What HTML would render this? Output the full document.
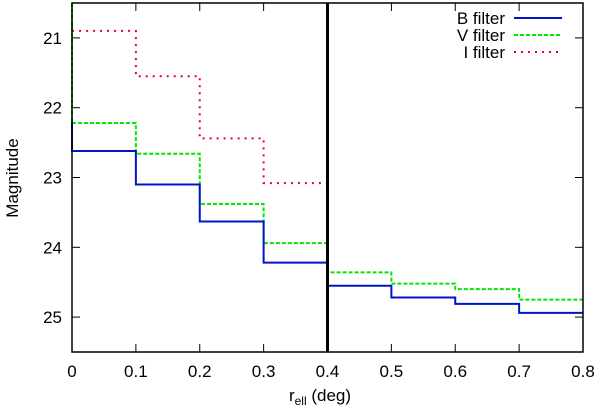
<!DOCTYPE html>
<html><head><meta charset="utf-8"><style>
body{margin:0;background:#fff}
svg text{font-family:"Liberation Sans",sans-serif;fill:#000}
</style></head><body>
<svg id="c" width="600" height="407" xmlns="http://www.w3.org/2000/svg"></svg>
<script>
const binEdges=[0,0.1,0.2,0.3,0.4,0.5,0.6,0.7,0.8];
const bValues=[22.62,23.10,23.63,24.22,24.55,24.72,24.81,24.94];
const vValues=[22.22,22.66,23.38,23.94,24.36,24.52,24.60,24.75];
const iValues=[20.90,21.55,22.44,23.08];
const xTicks=[0,0.1,0.2,0.3,0.4,0.5,0.6,0.7,0.8];
const xTickLabels=["0","0.1","0.2","0.3","0.4","0.5","0.6","0.7","0.8"];
const yTicks=[21,22,23,24,25];
const cutX=0.4;
const L=72,R=583,T=3,B=352,xMin=0,xMax=0.8,yMin=20.5,yMax=25.5;
const X=v=>L+(v-xMin)/(xMax-xMin)*(R-L);
const Y=v=>T+(v-yMin)/(yMax-yMin)*(B-T);
const svg=document.getElementById('c');
const NS='http://www.w3.org/2000/svg';
function mk(tag,attrs,parent){const e=document.createElementNS(NS,tag);for(const k in attrs)e.setAttribute(k,attrs[k]);(parent||svg).appendChild(e);return e;}
xTicks.forEach((t,i)=>{
  const g=mk('g',{});
  
  
  mk('line',{x1:X(t),x2:X(t),y1:B,y2:B-8,stroke:'#000','stroke-width':1},g);
  mk('line',{x1:X(t),x2:X(t),y1:T,y2:T+8,stroke:'#000','stroke-width':1},g);
  const tx=mk('text',{x:X(t),y:B+25,'text-anchor':'middle','font-size':17},g);
  tx.textContent=xTickLabels[i];
});
yTicks.forEach(t=>{
  const g=mk('g',{});
  
  
  mk('line',{x1:L,x2:L+8,y1:Y(t),y2:Y(t),stroke:'#000','stroke-width':1},g);
  mk('line',{x1:R,x2:R-8,y1:Y(t),y2:Y(t),stroke:'#000','stroke-width':1},g);
  const tx=mk('text',{x:L-10,y:Y(t)+6,'text-anchor':'end','font-size':17},g);
  tx.textContent=String(t);
});
function stepPath(vals,startY){
  let d='M'+X(binEdges[0])+','+Y(startY);
  vals.forEach((v,i)=>{d+=' L'+X(binEdges[i])+','+Y(v)+' L'+X(binEdges[i+1])+','+Y(v);});
  return d;
}
const series=[
  {vals:iValues,start:20.5,color:'#e8001e',dash:'2,5',name:'i-filter-line'},
  {vals:vValues,start:20.5,color:'#00e600',dash:'4,2',name:'v-filter-line'},
  {vals:bValues,start:22.2,color:'#0014c8',dash:'',name:'b-filter-line'}
];
series.forEach(s=>{
  const p=mk('path',{d:stepPath(s.vals,s.start),fill:'none',stroke:s.color,'stroke-width':2,'stroke-dasharray':s.dash});
  
  
});
const cut=mk('line',{x1:X(cutX),x2:X(cutX),y1:T,y2:B,stroke:'#000','stroke-width':3});


const frame=mk('rect',{x:L,y:T,width:R-L,height:B-T,fill:'none',stroke:'#000','stroke-width':1.5});


const leg=[['B filter','#0014c8',''],['V filter','#00e600','4,2'],['I filter','#e8001e','2,5']];
leg.forEach((l,i)=>{
  const g=mk('g',{});
  
  
  const y=18+i*17;
  const tx=mk('text',{x:505,y:y+6,'text-anchor':'end','font-size':17},g);
  tx.textContent=l[0];
  mk('line',{x1:514,x2:562,y1:y,y2:y,stroke:l[1],'stroke-width':2,'stroke-dasharray':l[2]},g);
});
const xt=mk('text',{x:320,y:401,'text-anchor':'middle','font-size':17});


xt.innerHTML='r<tspan font-size="12" dy="4">ell</tspan><tspan dy="-4"> (deg)</tspan>';
const yt=mk('text',{x:0,y:0,'text-anchor':'middle','font-size':17,transform:'translate(18,178) rotate(-90)'});


yt.textContent='Magnitude';
</script>
</body></html>
